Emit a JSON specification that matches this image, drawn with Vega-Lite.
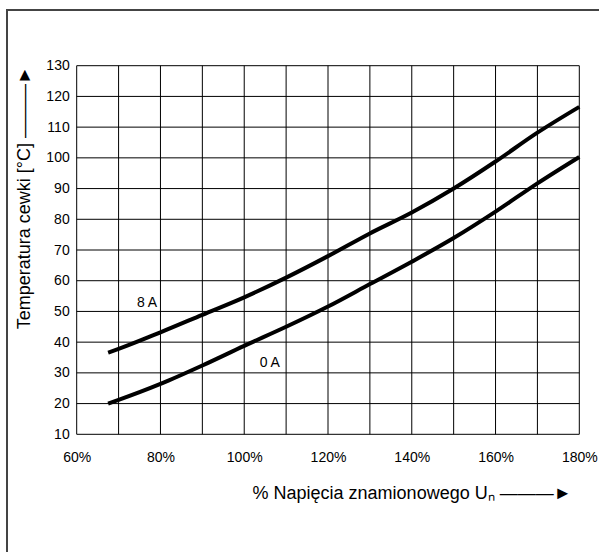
{
  "$schema": "https://vega.github.io/schema/vega-lite/v6.json",
  "autosize": "none",
  "padding": {"left": 7, "top": 10, "right": 0, "bottom": 0},
  "width": 593,
  "height": 543,
  "background": "white",
  "config": {
    "view": {"stroke": "#444444", "strokeWidth": 2},
    "font": "Liberation Sans",
    "axis": {
      "grid": false, "domain": false, "ticks": false,
      "labelFont": "Liberation Sans", "labelFontSize": 14, "labelColor": "black",
      "titleFont": "Liberation Sans", "titleFontSize": 18, "titleFontWeight": "normal", "titleColor": "black",
      "labelFlush": false, "labelBound": false, "labelOverlap": false
    }
  },
  "datasets": {
    "vgrid": [{"pct": 60}, {"pct": 70}, {"pct": 80}, {"pct": 90}, {"pct": 100}, {"pct": 110}, {"pct": 120}, {"pct": 130}, {"pct": 140}, {"pct": 150}, {"pct": 160}, {"pct": 170}, {"pct": 180}],
    "hgrid": [{"temp": 10}, {"temp": 20}, {"temp": 30}, {"temp": 40}, {"temp": 50}, {"temp": 60}, {"temp": 70}, {"temp": 80}, {"temp": 90}, {"temp": 100}, {"temp": 110}, {"temp": 120}, {"temp": 130}],
    "curves": [
      {"series": "8 A", "pct": 67.5, "temp": 36.6},
      {"series": "8 A", "pct": 70, "temp": 37.8},
      {"series": "8 A", "pct": 80, "temp": 43.2},
      {"series": "8 A", "pct": 90, "temp": 48.9},
      {"series": "8 A", "pct": 100, "temp": 54.6},
      {"series": "8 A", "pct": 110, "temp": 61.0},
      {"series": "8 A", "pct": 120, "temp": 68.0},
      {"series": "8 A", "pct": 130, "temp": 75.4},
      {"series": "8 A", "pct": 140, "temp": 82.2},
      {"series": "8 A", "pct": 150, "temp": 90.0},
      {"series": "8 A", "pct": 160, "temp": 98.8},
      {"series": "8 A", "pct": 170, "temp": 108.2},
      {"series": "8 A", "pct": 180, "temp": 116.6},
      {"series": "0 A", "pct": 67.5, "temp": 20.0},
      {"series": "0 A", "pct": 70, "temp": 21.2},
      {"series": "0 A", "pct": 80, "temp": 26.4},
      {"series": "0 A", "pct": 90, "temp": 32.4},
      {"series": "0 A", "pct": 100, "temp": 38.8},
      {"series": "0 A", "pct": 110, "temp": 45.0},
      {"series": "0 A", "pct": 120, "temp": 51.6},
      {"series": "0 A", "pct": 130, "temp": 58.9},
      {"series": "0 A", "pct": 140, "temp": 66.2},
      {"series": "0 A", "pct": 150, "temp": 73.9},
      {"series": "0 A", "pct": 160, "temp": 82.5},
      {"series": "0 A", "pct": 170, "temp": 91.7},
      {"series": "0 A", "pct": 180, "temp": 100.3}
    ],
    "labels": [
      {"label": "8 A", "pct": 76.8, "temp": 52.8},
      {"label": "0 A", "pct": 106.1, "temp": 33.1}
    ]
  },
  "layer": [
    {
      "data": {"name": "vgrid"},
      "mark": {"type": "rule", "color": "black", "strokeWidth": 1},
      "encoding": {
        "x": {"field": "pct", "type": "quantitative",
          "scale": {"domain": [60, 180], "range": [69.7, 572.3], "nice": false, "zero": false},
          "axis": {"title": "% Napięcia znamionowego Uₙ  ———►", "values": [60, 80, 100, 120, 140, 160, 180], "labelExpr": "datum.value + '%'", "offset": -118.7, "labelPadding": 16, "titleAnchor": "end", "titleX": 564, "titleAlign": "right", "titlePadding": 20}},
        "y": {"datum": 10, "type": "quantitative",
          "scale": {"domain": [10, 130], "range": [424.3, 55.7], "nice": false, "zero": false},
          "axis": {"title": "Temperatura cewki [°C]  ———►", "values": [10, 20, 30, 40, 50, 60, 70, 80, 90, 100, 110, 120, 130], "offset": -69.7, "labelPadding": 7.5, "titleAnchor": "end", "titlePadding": 12}},
        "y2": {"datum": 130}
      }
    },
    {
      "data": {"name": "hgrid"},
      "mark": {"type": "rule", "color": "black", "strokeWidth": 1},
      "encoding": {
        "y": {"field": "temp", "type": "quantitative"},
        "x": {"datum": 60, "type": "quantitative"},
        "x2": {"datum": 180}
      }
    },
    {
      "data": {"name": "curves"},
      "mark": {"type": "line", "color": "black", "strokeWidth": 4, "interpolate": "monotone", "strokeCap": "butt"},
      "encoding": {
        "x": {"field": "pct", "type": "quantitative"},
        "y": {"field": "temp", "type": "quantitative"},
        "detail": {"field": "series"}
      }
    },
    {
      "data": {"name": "labels"},
      "mark": {"type": "text", "color": "black", "fontSize": 14, "font": "Liberation Sans", "align": "center", "baseline": "middle"},
      "encoding": {
        "x": {"field": "pct", "type": "quantitative"},
        "y": {"field": "temp", "type": "quantitative"},
        "text": {"field": "label"}
      }
    }
  ]
}
